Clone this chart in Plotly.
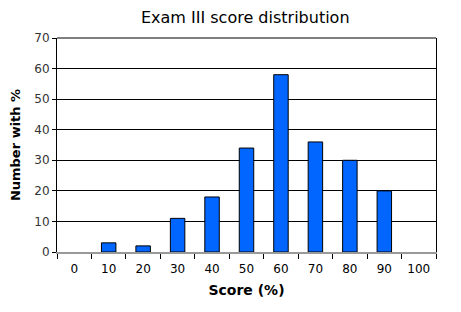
import plotly.graph_objects as go

categories = ["0", "10", "20", "30", "40", "50", "60", "70", "80", "90", "100"]
counts = [0, 3, 2, 11, 18, 34, 58, 36, 30, 20, 0]
y_ticks = [0, 10, 20, 30, 40, 50, 60, 70]

fig = go.Figure(go.Bar(
    x=categories, y=counts,
    marker=dict(color="#0066FF",
                line=dict(color="black", width=[1 if v > 0 else 0 for v in counts])),
))

fig.update_layout(
    width=461, height=312,
    margin=dict(l=57, r=25, t=38, b=60),
    paper_bgcolor="white", plot_bgcolor="white",
    bargap=0.58,
    showlegend=False,
    font=dict(family="DejaVu Sans", size=12, color="black"),
    title=dict(text="Exam III score distribution", x=0.532, xanchor="center",
               y=0.945, yanchor="middle", font=dict(size=16, color="black")),
)
fig.update_xaxes(
    type="category", tickson="boundaries", ticks="outside", ticklen=5,
    tickcolor="black", showline=True, linecolor="#999999", linewidth=2,
    showgrid=False, ticklabelstandoff=5,
    title=dict(text="<b>Score (%)</b>", font=dict(size=14), standoff=10),
)
fig.update_yaxes(
    range=[0, 70], tickvals=y_ticks, ticks="outside", ticklen=4,
    tickcolor="black", showline=True, linecolor="black", linewidth=1,
    mirror=True, showgrid=True, gridcolor="black", gridwidth=1,
    zeroline=False, tickfont=dict(size=12, color="#333333"),
    title=dict(text="<b>Number with %</b>", font=dict(size=13), standoff=10),
)
fig.add_shape(type="line", xref="paper", yref="paper", x0=0, x1=1, y0=1, y1=1,
              line=dict(color="black", width=1))

fig.write_html("out.html")
